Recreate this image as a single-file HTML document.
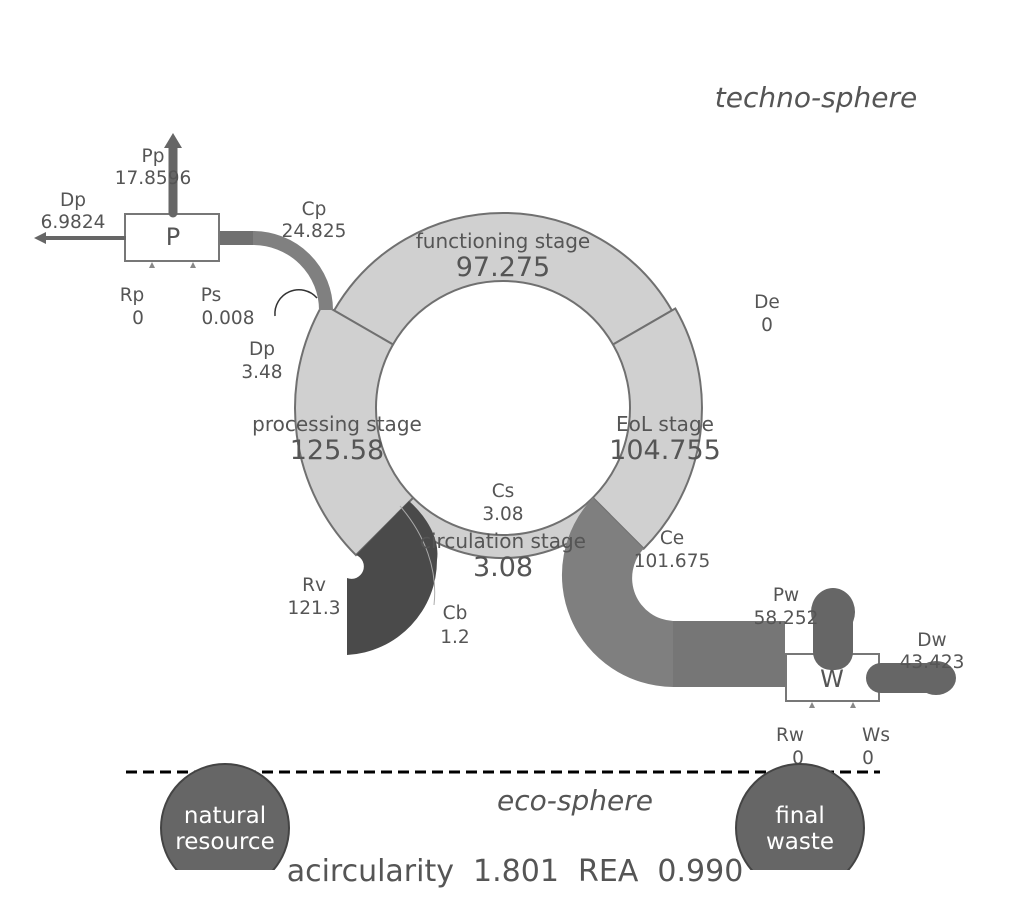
<!DOCTYPE html>
<html><head><meta charset="utf-8"><style>
html,body{margin:0;padding:0;background:#fff;}
svg{display:block;}
text{font-family:"DejaVu Sans","Liberation Sans",sans-serif;fill:#555;}
</style></head><body>
<svg width="1024" height="899" viewBox="0 0 1024 899" xmlns="http://www.w3.org/2000/svg">
<g fill="#d0d0d0" stroke="#707070" stroke-width="2">
<path d="M671.9,310.5 A195,195 0 0 0 334.1,310.5 L393,344.5 A127,127 0 0 1 613,344.5 Z"/>
<path d="M322.9,304 A208,208 0 0 0 355.9,555.1 L413.2,497.8 A127,127 0 0 1 393,344.5 Z"/>
<path d="M643.7,548.7 A199,199 0 0 0 675.3,308.5 L613,344.5 A127,127 0 0 1 592.8,497.8 Z"/>
<path d="M396.9,514.1 A150,150 0 0 0 609.1,514.1 L592.8,497.8 A127,127 0 0 1 413.2,497.8 Z"/>
</g>
<path d="M356,555 L409,501 C428,518 440,540 437,560 A95,95 0 0 1 347,655 L347,578 A12,12 0 0 0 356,555 Z" fill="#4a4a4a"/>
<path d="M400,506 C425,535 438,570 434,605" fill="none" stroke="#aaa" stroke-width="1"/>
<path d="M592.8,497.8 A112,112 0 0 0 673,687 L673,621 A43,43 0 0 1 643.7,548.7 Z" fill="#7f7f7f"/>
<rect x="673" y="621" width="112" height="66" fill="#767676"/>
<rect x="219" y="231" width="34" height="14" fill="#707070"/>
<path d="M253,238 A73,72 0 0 1 326,310" fill="none" stroke="#808080" stroke-width="14"/>
<path d="M275,316 A24,24 0 0 1 317,298" fill="none" stroke="#333" stroke-width="1.5"/>
<rect x="125" y="214" width="94" height="47" fill="#fff" stroke="#777" stroke-width="2"/>
<text x="173" y="245" font-size="24" text-anchor="middle">P</text>
<polygon points="149,268 152,262 155,268" fill="#888"/>
<polygon points="190,268 193,262 196,268" fill="#888"/>
<line x1="173" y1="213" x2="173" y2="145" stroke="#666" stroke-width="9" stroke-linecap="round"/>
<polygon points="164,148 173,133 182,148" fill="#666"/>
<line x1="126" y1="238" x2="44" y2="238" stroke="#666" stroke-width="4"/>
<polygon points="46,232 34,238 46,244" fill="#666"/>
<rect x="786" y="654" width="93" height="47" fill="#fff" stroke="#777" stroke-width="2"/>
<text x="832" y="687" font-size="24" text-anchor="middle">W</text>
<polygon points="809,708 812,702 815,708" fill="#888"/>
<polygon points="850,708 853,702 856,708" fill="#888"/>
<rect x="813" y="600" width="40" height="70" rx="18" fill="#666"/>
<ellipse cx="833" cy="612" rx="22" ry="24" fill="#666"/>
<rect x="866" y="663" width="80" height="30" rx="15" fill="#666"/>
<ellipse cx="936" cy="678" rx="20" ry="17" fill="#666"/>
<g font-size="18.5" text-anchor="middle">
<text x="153" y="162">Pp</text><text x="153" y="184">17.8596</text>
<text x="73" y="206">Dp</text><text x="73" y="228">6.9824</text>
<text x="314" y="215">Cp</text><text x="314" y="237">24.825</text>
<text x="132" y="301">Rp</text><text x="138" y="324">0</text>
<text x="211" y="301">Ps</text><text x="228" y="324">0.008</text>
<text x="262" y="355">Dp</text><text x="262" y="378">3.48</text>
<text x="767" y="308">De</text><text x="767" y="331">0</text>
<text x="503" y="497">Cs</text><text x="503" y="520">3.08</text>
<text x="672" y="544">Ce</text><text x="672" y="567">101.675</text>
<text x="314" y="591">Rv</text><text x="314" y="614">121.3</text>
<text x="455" y="619">Cb</text><text x="455" y="643">1.2</text>
<text x="786" y="601">Pw</text><text x="786" y="624">58.252</text>
<text x="932" y="646">Dw</text><text x="932" y="668">43.423</text>
<text x="790" y="741">Rw</text><text x="798" y="764">0</text>
<text x="876" y="741">Ws</text><text x="868" y="764">0</text>
<text x="503" y="248" font-size="20">functioning stage</text>
<text x="503" y="276" font-size="27">97.275</text>
<text x="337" y="431" font-size="20">processing stage</text>
<text x="337" y="459" font-size="27">125.58</text>
<text x="665" y="431" font-size="20">EoL stage</text>
<text x="665" y="459" font-size="27">104.755</text>
<text x="503" y="548" font-size="20">circulation stage</text>
<text x="503" y="576" font-size="27">3.08</text>
</g>
<text x="816" y="107" font-size="28" font-style="italic" text-anchor="middle">techno-sphere</text>
<line x1="126" y1="772" x2="880" y2="772" stroke="#000" stroke-width="3" stroke-dasharray="11,6"/>
<defs><clipPath id="c"><rect x="0" y="0" width="1024" height="870"/></clipPath></defs>
<g clip-path="url(#c)" fill="#666" stroke="#444" stroke-width="2">
<circle cx="225" cy="828" r="64"/>
<circle cx="800" cy="828" r="64"/>
</g>
<g font-size="23" text-anchor="middle">
<text x="225" y="823" style="fill:#fff">natural</text><text x="225" y="849" style="fill:#fff">resource</text>
<text x="800" y="823" style="fill:#fff">final</text><text x="800" y="849" style="fill:#fff">waste</text>
</g>
<text x="575" y="810" font-size="28" font-style="italic" text-anchor="middle">eco-sphere</text>
<text x="515" y="881" font-size="30" text-anchor="middle" style="white-space:pre" xml:space="preserve">acircularity  1.801  REA  0.990</text>
</svg>
</body></html>
